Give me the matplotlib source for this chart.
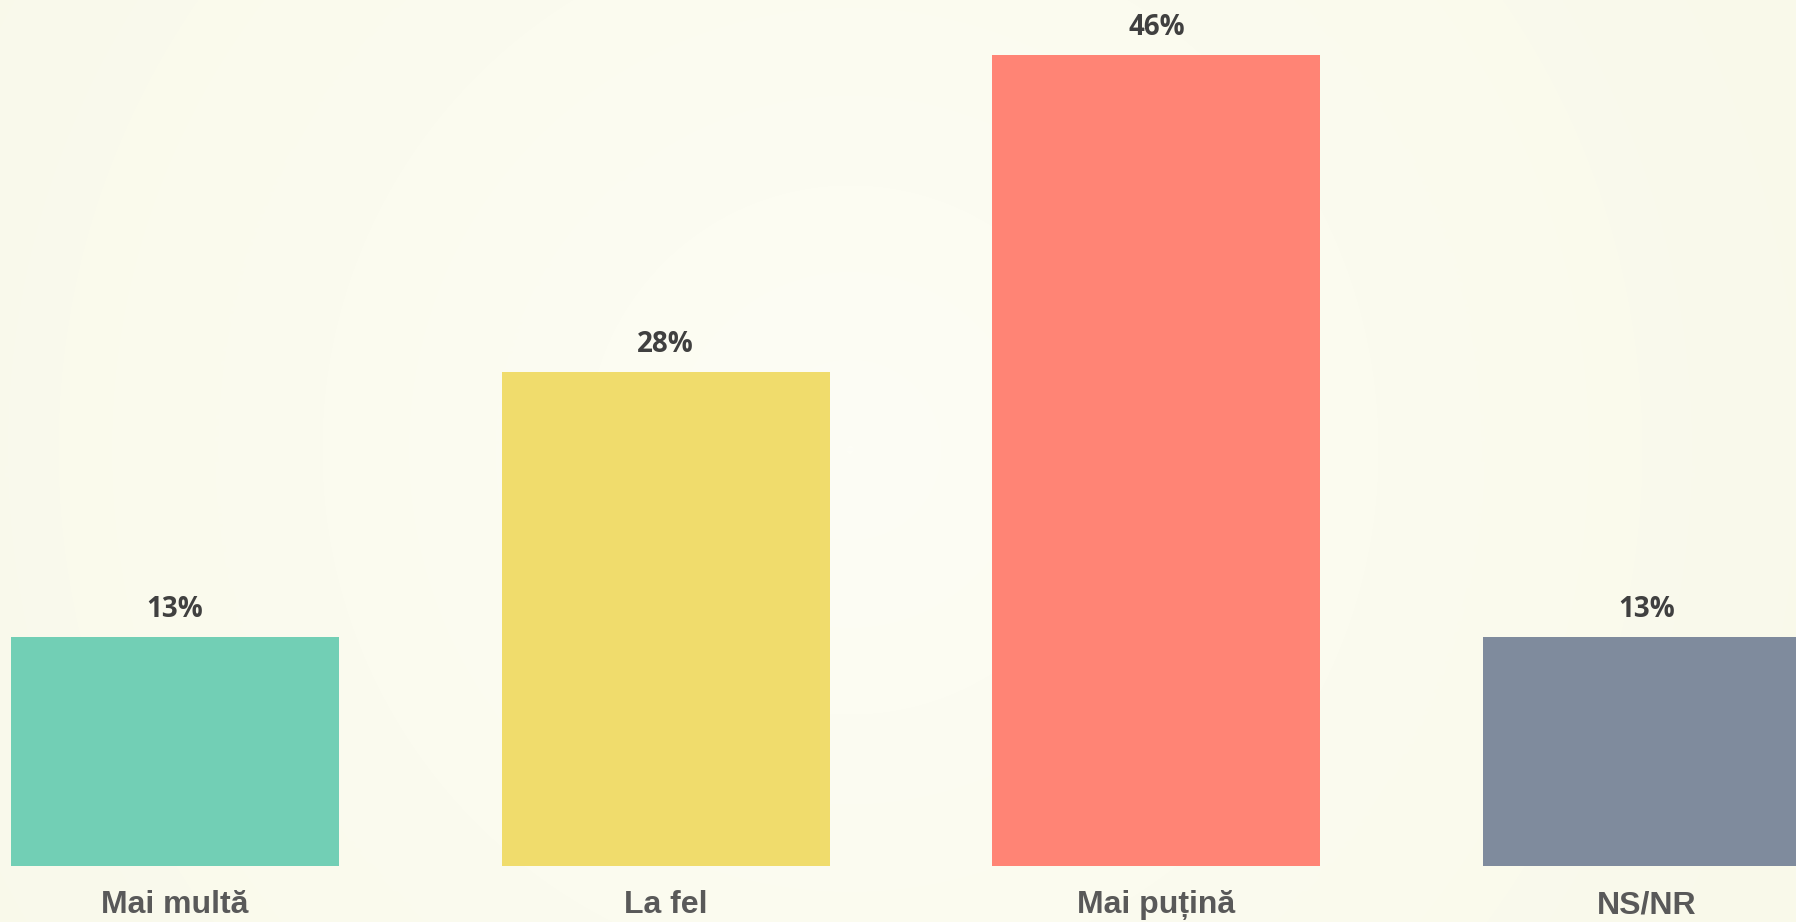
import numpy as np
import matplotlib
matplotlib.use("Agg")
import matplotlib.pyplot as plt
from matplotlib.colors import LinearSegmentedColormap

categories = ["Mai multă", "La fel", "Mai puțină", "NS/NR"]
values = [13, 28, 46, 13]
value_labels = ["13%", "28%", "46%", "13%"]
colors = ["#72cfb5", "#f0dc6c", "#ff8475", "#7f8b9d"]

W, H = 1796, 922
fig = plt.figure(figsize=(W / 100, H / 100), dpi=100)

# radial gradient background
bg = fig.add_axes([0, 0, 1, 1])
yy, xx = np.mgrid[0:H, 0:W]
cx, cy = 850, 450
r = np.sqrt((xx - cx) ** 2 + (yy - cy) ** 2)
r = r / r.max()
cmap = LinearSegmentedColormap.from_list("bg", ["#fdfdf5", "#fbfbef", "#f9f9ea"])
bg.imshow(r, cmap=cmap, aspect="auto", extent=[0, W, H, 0], vmin=0, vmax=1)
bg.set_axis_off()

base_px = 866
px_per_unit = 17.63
cat_px = 490.67
first_px = 175

ax = fig.add_axes([0, (H - base_px) / H, 1, base_px / H])
ax.patch.set_alpha(0)
x = np.arange(len(categories))
ax.bar(x, values, width=328 / cat_px, color=colors)
ax.set_xlim(-first_px / cat_px, (W - first_px) / cat_px)
ax.set_ylim(0, base_px / px_per_unit)
for xi, v, lab in zip(x, values, value_labels):
    ax.annotate(lab, (xi, v), xytext=(0, 20), textcoords="offset pixels",
                ha="center", va="baseline", fontsize=20, fontweight="bold",
                color="#404040", family=["Open Sans", "DejaVu Sans"])
for xi, cat in zip(x, categories):
    ax.annotate(cat, (xi, 0), xytext=(0, -47), textcoords="offset pixels",
                ha="center", va="baseline", fontsize=23, fontweight="bold",
                color="#595959", family=["Liberation Sans", "DejaVu Sans"],
                annotation_clip=False)
ax.set_xticks([])
ax.set_yticks([])
for s in ax.spines.values():
    s.set_visible(False)

fig.savefig("out.png", dpi=100)
